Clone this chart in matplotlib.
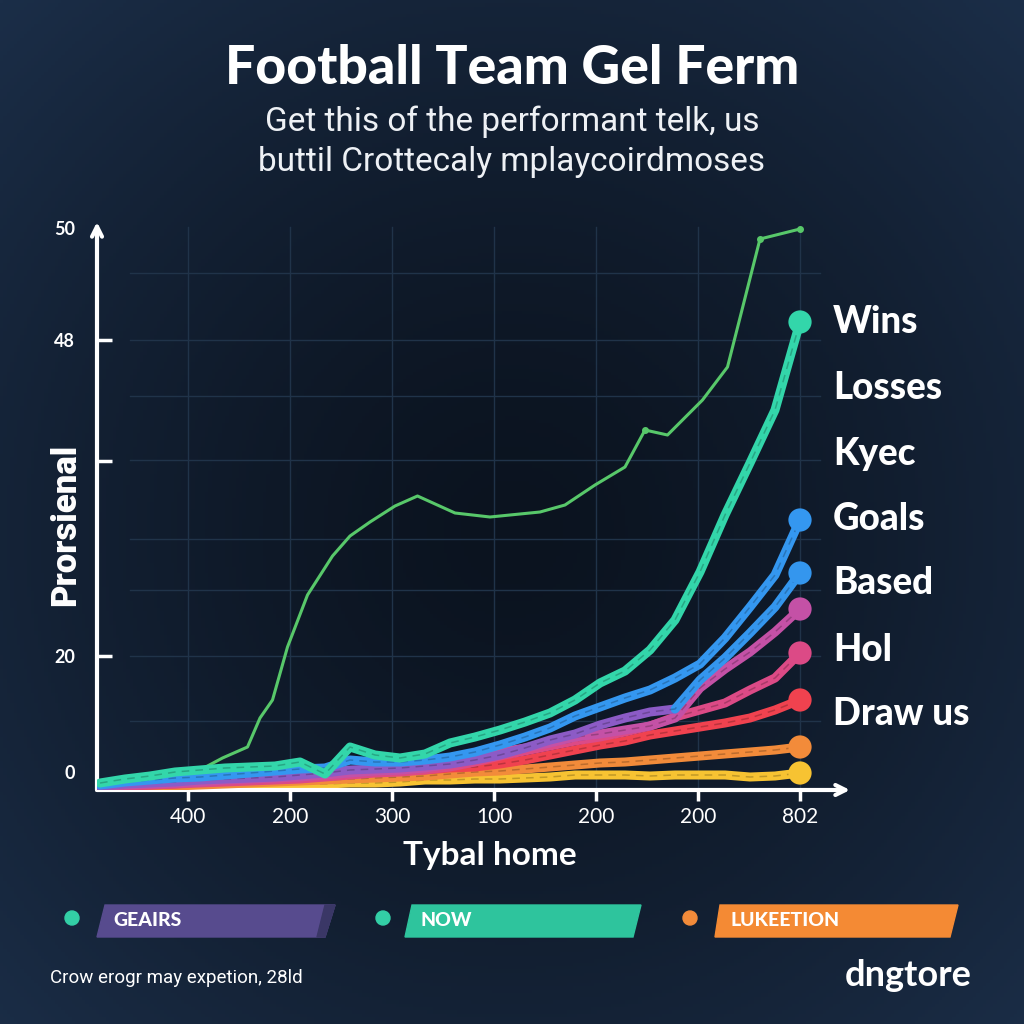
import numpy as np
import matplotlib.pyplot as plt
from matplotlib.patches import Polygon, Circle

# axe x : une valeur tous les 25 px
semaines = list(range(29))

wins   = [0.7, 1.1, 1.4, 1.8, 2.0, 2.2, 2.3, 2.4, 2.8, 1.6, 4.3, 3.5, 3.2, 3.6, 4.7,
          5.3, 6.0, 6.8, 7.7, 9.0, 10.7, 11.9, 14.0, 17.0, 21.8, 27.5, 32.7, 38.0, 46.8]
goals  = [0.5, 0.8, 1.0, 1.2, 1.3, 1.5, 1.7, 1.9, 2.1, 2.2, 3.0, 2.8, 2.8, 3.0, 3.3,
          3.8, 4.5, 5.3, 6.2, 7.4, 8.3, 9.2, 10.0, 11.2, 12.6, 15.2, 18.3, 21.5, 27.0]
based  = [0.4, 0.6, 0.7, 0.8, 1.0, 1.1, 1.2, 1.3, 1.5, 1.7, 2.0, 2.1, 2.2, 2.4, 2.6,
          3.0, 3.5, 4.2, 5.0, 5.6, 6.5, 7.2, 7.8, 8.1, 11.0, 13.2, 15.7, 18.3, 21.7]
magenta = [0.3, 0.5, 0.6, 0.7, 0.8, 1.0, 1.1, 1.2, 1.3, 1.5, 1.7, 1.9, 2.0, 2.2, 2.6,
           3.1, 3.8, 4.2, 4.7, 5.3, 5.6, 6.0, 6.4, 7.2, 10.2, 12.1, 13.8, 15.8, 18.1]
hol    = [0.3, 0.4, 0.5, 0.6, 0.7, 0.8, 0.9, 1.0, 1.1, 1.3, 1.5, 1.7, 1.8, 2.0, 2.3,
          2.8, 3.4, 3.9, 4.4, 4.9, 5.3, 5.8, 6.4, 7.3, 8.0, 8.7, 10.0, 11.2, 13.7]
draw   = [0.2, 0.4, 0.5, 0.6, 0.8, 1.0, 1.1, 1.2, 1.3, 1.5, 1.7, 1.8, 1.9, 2.0, 2.2,
          2.3, 2.6, 3.0, 3.5, 4.0, 4.5, 4.9, 5.5, 5.9, 6.3, 6.7, 7.2, 8.0, 9.0]
orange = [0.2, 0.3, 0.3, 0.4, 0.5, 0.6, 0.7, 0.8, 0.9, 1.0, 1.1, 1.2, 1.3, 1.4, 1.6,
          1.8, 1.9, 2.1, 2.3, 2.5, 2.7, 2.8, 3.0, 3.2, 3.4, 3.6, 3.8, 4.0, 4.3]
jaune  = [0.1, 0.2, 0.2, 0.3, 0.3, 0.4, 0.5, 0.5, 0.6, 0.6, 0.7, 0.7, 0.8, 1.0, 1.0,
          1.1, 1.1, 1.2, 1.3, 1.5, 1.5, 1.5, 1.4, 1.5, 1.5, 1.5, 1.3, 1.4, 1.7]

# ligne verte fine
vert_x = [0, 2, 3.6, 4.0, 4.9, 5.9, 6.4, 6.9, 7.5, 8.3, 9.3, 10.0, 10.8, 11.8, 12.7,
          14.2, 15.6, 17.6, 18.6, 19.8, 21.0, 21.8, 22.7, 24.1, 25.1, 26.4, 28.0]
vert_y = [0.5, 1.2, 1.5, 2.0, 3.2, 4.3, 7.2, 9.0, 14.3, 19.5, 23.4, 25.4, 26.8, 28.4, 29.4,
          27.7, 27.3, 27.8, 28.5, 30.5, 32.3, 36.0, 35.5, 39.0, 42.3, 55.1, 56.1]

xtick_pos = [3.52, 7.6, 11.68, 15.76, 19.84, 23.92, 28.0]
xtick_lab = ['400', '200', '300', '100', '200', '200', '802']
ytick_pos = [1.8, 13.4, 32.9, 45.0, 56.2]
ytick_lab = ['0', '20', '', '48', '50']
grille_y = [6.9, 13.4, 20.0, 25.1, 33.0, 39.4, 45.0, 51.7]

noms = ['Wins', 'Losses', 'Kyec', 'Goals', 'Based', 'Hol', 'Draw us']
legende = ['GEAIRS', 'NOW', 'LUKEETION']

fig = plt.figure(figsize=(10.24, 10.24), dpi=100)

# fond degrade
bg = fig.add_axes([0, 0, 1, 1])
yy, xx = np.mgrid[0:1:300j, 0:1:300j]
d = np.sqrt((xx - 0.5) ** 2 + (yy - 0.52) ** 2) / 0.72
d = np.clip(d, 0, 1) ** 1.4
sombre = np.array([11, 19, 31]) / 255
clair = np.array([27, 46, 72]) / 255
img = sombre[None, None, :] + (clair - sombre)[None, None, :] * d[:, :, None]
bg.imshow(img, extent=[0, 1, 0, 1], aspect='auto', origin='upper')
bg.axis('off')

W = 1024.0
ax = fig.add_axes([97 / W, 1 - 790 / W, 753 / W, 568 / W])
ax.set_facecolor('none')
ax.set_xlim(-0.12, 30.0)
ax.set_ylim(0, 56.8)

# grille
for y in grille_y:
    ax.plot([1.2, 28.8], [y, y], color='#203349', lw=1, zorder=1)
for x in xtick_pos:
    ax.plot([x, x], [0, 56.3], color='#203349', lw=1, zorder=1)

ax.plot(vert_x, vert_y, color='#58c86a', lw=2.2, zorder=2,
        marker='o', ms=4, markevery=[21, 25, 26])

series = [
    (jaune, '#f7c332'),
    (orange, '#f28b3a'),
    (draw, '#f0424f'),
    (hol, '#dc4a86'),
    (magenta, '#c451a6'),
    (based, '#3496ee'),
    (goals, '#3497f0'),
    (wins, '#33d6aa'),
]
z = 3
for vals, c in series:
    if vals is based:
        ax.plot(semaines[:24], vals[:24], color='#8c5bc6', lw=6.5, solid_capstyle='round',
                solid_joinstyle='round', zorder=z)
        ax.plot(semaines[23:], vals[23:], color=c, lw=6.5, solid_capstyle='round',
                solid_joinstyle='round', zorder=z)
    else:
        ax.plot(semaines, vals, color=c, lw=6.5, solid_capstyle='round',
                solid_joinstyle='round', zorder=z)
    ax.plot(semaines, vals, color='black', alpha=0.22, lw=1.1, ls=(0, (5, 4)), zorder=z + 0.1)
    ax.scatter([semaines[-1]], [vals[-1]], s=280, color=c, zorder=z + 0.2, edgecolors='none')
    z += 1

# axes avec fleches
for s in ax.spines.values():
    s.set_visible(False)
ax.annotate('', xy=(0, 1), xycoords='axes fraction', xytext=(0, 0),
            arrowprops=dict(arrowstyle='->', color='white', lw=3, mutation_scale=18,
                            shrinkA=0, shrinkB=0), annotation_clip=False)
ax.annotate('', xy=(1, 0), xycoords='axes fraction', xytext=(0, 0),
            arrowprops=dict(arrowstyle='->', color='white', lw=3, mutation_scale=18,
                            shrinkA=0, shrinkB=0), annotation_clip=False)

ax.set_xticks(xtick_pos)
ax.set_xticklabels(xtick_lab, fontsize=15, color='white', family='Lato')
ax.tick_params(axis='x', direction='out', length=8, width=2.5, color='white', pad=4)
ax.set_yticks(ytick_pos)
ax.set_yticklabels(ytick_lab, fontsize=13, color='white', family='Lato', fontweight='bold')
ax.tick_params(axis='y', direction='in', length=11, width=2.5, color='white', pad=16)
for i in [0, 4]:
    ax.yaxis.get_major_ticks()[i].tick1line.set_visible(False)

fig.text(66 / W, 1 - 525 / W, 'Prorsienal', rotation=90, ha='center', va='center',
         fontsize=25, fontweight='black', color='white', family='Roboto')
fig.text(490 / W, 1 - 855 / W, 'Tybal home', ha='center', va='center',
         fontsize=24, fontweight='bold', color='white', family='Lato')

# titres
fig.text(0.5, 1 - 68 / W, 'Football Team Gel Ferm', ha='center', va='center',
         fontsize=38.5, fontweight='black', color='white', family='Lato')
fig.text(0.5, 1 - 122 / W, 'Get this of the performant telk, us', ha='center', va='center',
         fontsize=24, color='#eef1f5', family='Roboto')
fig.text(0.5, 1 - 162 / W, 'buttil Crottecaly mplaycoirdmoses', ha='center', va='center',
         fontsize=24, color='#eef1f5', family='Roboto')

# etiquettes a droite
lab_y = [322, 388, 454, 519, 583, 650, 714]
for n, y in zip(noms, lab_y):
    fig.text(833 / W, 1 - y / W, n, ha='left', va='center', fontsize=26.5,
             fontweight='black', color='white', family='Lato')

# legende du bas
barres = [
    ([(105, 905), (335, 905), (325, 937), (97, 937)], '#574b8e', '#33cfa6', 72),
    ([(412, 905), (641, 905), (633, 937), (405, 937)], '#2ec49d', '#33cfa6', 383),
    ([(720, 905), (958, 905), (950, 937), (715, 937)], '#f48a34', '#f28b3a', 690),
]
for (pts, c, cdot, xd), txt in zip(barres, legende):
    fig.patches.append(Polygon([(px / W, 1 - py / W) for px, py in pts], closed=True,
                               transform=fig.transFigure, color=c, zorder=5))
    fig.patches.append(Circle((xd / W, 1 - 918 / W), 7 / W, transform=fig.transFigure,
                              color=cdot, zorder=5))
    fig.text((pts[3][0] + 16) / W, 1 - 921 / W, txt, ha='left', va='center', fontsize=14,
             fontweight='black', color='white', family='Lato', zorder=6)
# ombre de la barre violette
fig.patches.append(Polygon([(325 / W, 1 - 905 / W), (335 / W, 1 - 905 / W),
                            (325 / W, 1 - 937 / W), (317 / W, 1 - 937 / W)], closed=True,
                           transform=fig.transFigure, color='#3a3766', zorder=5))

fig.text(50 / W, 1 - 978 / W, 'Crow erogr may expetion, 28ld', ha='left', va='center',
         fontsize=13.5, color='white', family='Roboto')
fig.text(908 / W, 1 - 975 / W, 'dngtore', ha='center', va='center',
         fontsize=26, fontweight='bold', color='white', family='Lato')

fig.savefig('out.png', dpi=100)
